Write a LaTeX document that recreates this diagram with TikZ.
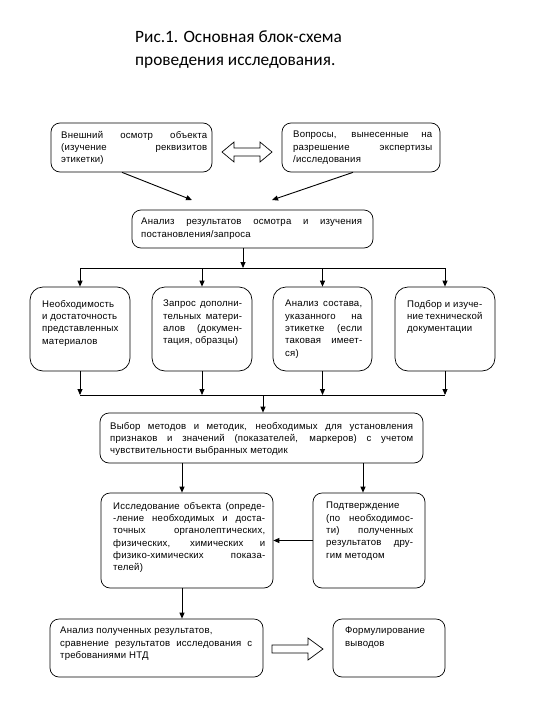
\documentclass[tikz,border=0pt]{standalone}
\usepackage{fontspec}
\setmainfont{Liberation Sans}[LetterSpace=2]
\newfontfamily\titlefont{Carlito}
\usetikzlibrary{arrows.meta,calc}
\newcommand\jl[2]{\makebox[#1pt][s]{#2}}
\begin{document}
\begin{tikzpicture}[x=1pt,y=-1pt,
  box/.style={draw, line width=0.7pt, rounded corners=9pt, inner sep=0pt},
  rbox/.style={box, rounded corners=13pt},
  txt/.style={anchor=north west, inner sep=0pt, align=left, font=\fontsize{9.6}{12.3}\selectfont},
  ttl/.style={anchor=base west, inner sep=0pt, font=\titlefont\fontsize{17.3}{23}\selectfont},
  arr/.style={-{Triangle[length=6pt,width=5pt]}, line width=0.9pt},
  ln/.style={line width=0.9pt},
  barrow/.style={draw, line width=0.7pt, fill=white}]
\useasboundingbox (0,0) rectangle (540,720);

% title
\node[ttl] (t1) at (135,42) {Рис.1. Основная блок-схема};
\node[ttl] (t2) at (135,65) {проведения исследования.};

% top boxes
\node[box, minimum width=161pt, minimum height=49pt] (a) at (131.5,147.5) {};
\node[txt] (at) at (61,131) {\jl{146}{Внешний осмотр объекта}\\ \jl{146}{(изучение реквизитов}\\ этикетки)};
\node[box, minimum width=158pt, minimum height=49pt] (b) at (361,147.5) {};
\node[txt] (bt) at (293,131) {\jl{139}{Вопросы, вынесенные на}\\ \jl{139}{разрешение экспертизы}\\ /исследования};

% double block arrow
\draw[barrow] (222,152) -- (234,142) -- (234,148) -- (260,148) -- (260,142) -- (272,152)
  -- (260,162) -- (260,156) -- (234,156) -- (234,162) -- cycle;

% C
\node[box, minimum width=241pt, minimum height=38pt] (c) at (252.5,229) {};
\node[txt] (ct) at (141,218) {\jl{221}{Анализ результатов осмотра и изучения}\\ постановления/запроса};
\coordinate (ca) at (192,200);
\coordinate (cb) at (272,200);
\draw[arr] ($(a.south)+(-9.5,0)$) -- (ca);
\draw[arr] ($(b.south)+(-8,0)$) -- (cb);

% bus 1
\coordinate (bus1) at (243,268);
\draw[arr] (c.south -| bus1) -- (bus1);

% row boxes
\node[rbox, minimum width=100pt, minimum height=84pt] (r1) at (80,329) {};
\node[rbox, minimum width=100pt, minimum height=84pt] (r2) at (202,329) {};
\node[rbox, minimum width=99pt, minimum height=84pt] (r3) at (322.5,329) {};
\node[rbox, minimum width=100pt, minimum height=84pt] (r4) at (445,329) {};
\node[txt] (r1t) at (42,300) {Необходимость\\ и достаточность\\ представленных\\ материалов};
\node[txt] (r2t) at (163,300) {\jl{79}{Запрос дополни-}\\ \jl{79}{тельных матери-}\\ \jl{79}{алов (докумен-}\\ тация, образцы)};
\node[txt] (r3t) at (285,300) {\jl{77}{Анализ состава,}\\ \jl{77}{указанного на}\\ \jl{77}{этикетке (если}\\ \jl{77}{таковая имеет-}\\ ся)};
\node[txt] (r4t) at (407,300) {\jl{75}{Подбор и изуче-}\\ \jl{75}{ние технической}\\ документации};

\draw[ln] (r1.north |- bus1) -- (r4.north |- bus1);
\foreach \r in {r1,r2,r3,r4} { \draw[arr] (\r.north |- bus1) -- (\r.north); }

% bus 2
\coordinate (bus2) at (263,395);
\foreach \r in {r1,r2,r3,r4} { \draw[arr] (\r.south) -- (\r.south |- bus2); }
\draw[ln] (r1.south |- bus2) -- (r4.south |- bus2);

% D
\node[box, minimum width=323pt, minimum height=50pt] (d) at (261.5,438) {};
\node[txt] (dt) at (110,422) {\jl{303}{Выбор методов и методик, необходимых для установления}\\ \jl{303}{признаков и значений (показателей, маркеров) с учетом}\\ чувствительности выбранных методик};
\draw[arr] (bus2) -- (bus2 |- d.north);

% E, F
\node[box, minimum width=172pt, minimum height=95pt] (e) at (187,540.5) {};
\node[txt] (et) at (113,502) {\jl{152}{Исследование объекта (опреде-}\\ \jl{152}{-ление необходимых и доста-}\\ \jl{152}{точных органолептических,}\\ \jl{152}{физических, химических и}\\ \jl{152}{физико-химических показа-}\\ телей)};
\node[box, minimum width=112pt, minimum height=95pt] (f) at (369,540.5) {};
\node[txt] (ft) at (326,502) {Подтверждение\\ \jl{87}{(по необходимос-}\\ \jl{87}{ти) полученных}\\ \jl{87}{результатов дру-}\\ гим методом};
\coordinate (de) at (182,463);
\coordinate (df) at (363,463);
\draw[arr] (de) -- (de |- e.north);
\draw[arr] (df) -- (df |- f.north);
\draw[arr] (f.west) -- (e.east);

% G, H
\node[box, minimum width=213pt, minimum height=58pt] (g) at (156.5,648) {};
\node[txt] (gt) at (60,627) {Анализ полученных результатов,\\ \jl{192}{сравнение результатов исследования с}\\ требованиями НТД};
\node[box, minimum width=112pt, minimum height=58pt] (h) at (389,648) {};
\node[txt] (ht) at (345,627) {Формулирование\\ выводов};
\draw[arr] (de |- e.south) -- (de |- g.north);

% single block arrow
\draw[barrow] (272,645) -- (308,645) -- (308,638) -- (323,649) -- (308,660) -- (308,653) -- (272,653) -- cycle;
\end{tikzpicture}
\end{document}
